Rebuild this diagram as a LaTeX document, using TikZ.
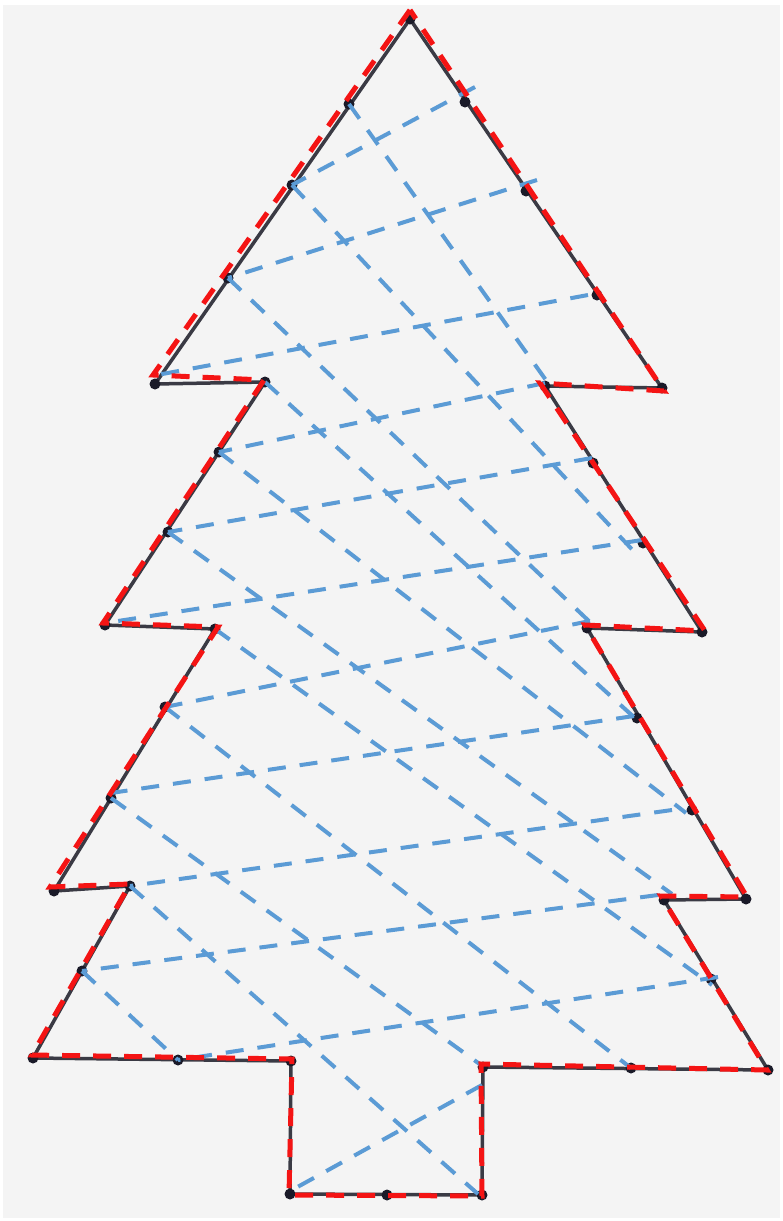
\documentclass[tikz,border=0pt]{standalone}
\definecolor{bgc}{HTML}{F4F4F4}
\definecolor{outc}{HTML}{3A3A44}
\definecolor{dotc}{HTML}{1A1A28}
\definecolor{redc}{HTML}{F41414}
\definecolor{bluec}{HTML}{5B9BD5}
\tikzset{
  outline/.style={draw=outc, line width=3.5pt, line join=round},
  reddash/.style={draw=redc, line width=5pt, dash pattern=on 18pt off 13pt, line join=miter},
  bluedash/.style={draw=bluec, line width=4pt, dash pattern=on 18pt off 14pt},
  vdot/.style={circle, fill=dotc, inner sep=0pt, minimum size=11pt}
}
\begin{document}
\begin{tikzpicture}[x=1pt,y=-1pt]
\useasboundingbox (0,0) rectangle (783,1221);
\fill[white] (0,0) rectangle (783,1221);
\fill[bgc] (3,5) rectangle (780,1218);
% outline vertices
\coordinate (T) at (410,19);
\coordinate (LN1o) at (155,384);
\coordinate (LN1i) at (265,382);
\coordinate (LN2o) at (105,625);
\coordinate (LN2i) at (215,629);
\coordinate (LN3o) at (54,891);
\coordinate (LN3i) at (130,886);
\coordinate (BL) at (33,1058);
\coordinate (TrLT) at (291,1061);
\coordinate (TrLB) at (290,1194);
\coordinate (TrRB) at (482,1195);
\coordinate (TrRT) at (483,1067);
\coordinate (BR) at (768,1070);
\coordinate (RN3i) at (664,900);
\coordinate (RN3o) at (746,899);
\coordinate (RN2i) at (587,628);
\coordinate (RN2o) at (702,632);
\coordinate (RN1i) at (545,386);
\coordinate (RN1o) at (662,388);
% red outline vertices (drawn slightly off the black one)
\coordinate (rT) at (410,10);
\coordinate (rLN1o) at (153,375);
\coordinate (rLN1i) at (264,380);
\coordinate (rLN2o) at (103,623);
\coordinate (rLN2i) at (218,627);
\coordinate (rLN3o) at (50,887);
\coordinate (rLN3i) at (130,884);
\coordinate (rBL) at (32,1055);
\coordinate (rTrLT) at (292,1059);
\coordinate (rTrLB) at (289,1195);
\coordinate (rTrRB) at (482,1196);
\coordinate (rTrRT) at (481,1064);
\coordinate (rBR) at (767,1070);
\coordinate (rRN3i) at (661,896);
\coordinate (rRN3o) at (747,897);
\coordinate (rRN2i) at (585,625);
\coordinate (rRN2o) at (705,631);
\coordinate (rRN1i) at (540,383);
\coordinate (rRN1o) at (664,391);
% intermediate points
\coordinate (a1) at (349,104);
\coordinate (a2) at (292,185);
\coordinate (a3) at (228,278);
\coordinate (a4) at (219,452);
\coordinate (a5) at (168,532);
\coordinate (a6) at (165,707);
\coordinate (a7) at (111,798);
\coordinate (a8) at (82,971);
\coordinate (b1) at (178,1060);
\coordinate (b2) at (387,1195);
\coordinate (b3) at (631,1068);
\coordinate (c1) at (465,102);
\coordinate (c2) at (526,191);
\coordinate (c3) at (597,295);
\coordinate (c4) at (593,463);
\coordinate (c5) at (643,543);
\coordinate (c6) at (637,718);
\coordinate (c7) at (692,810);
\coordinate (c8) at (711,979);
% black outline
\draw[outline] (T) -- (LN1o) -- (LN1i) -- (LN2o) -- (LN2i) -- (LN3o) -- (LN3i) -- (BL)
  -- (TrLT) -- (TrLB) -- (TrRB) -- (TrRT) -- (BR) -- (RN3i) -- (RN3o) -- (RN2i)
  -- (RN2o) -- (RN1i) -- (RN1o) -- cycle;
% dots
\foreach \p in {T,LN1o,LN1i,LN2o,LN2i,LN3o,LN3i,BL,TrLT,TrLB,TrRB,TrRT,BR,RN3i,RN3o,RN2i,RN2o,RN1i,RN1o,a1,a2,a3,a4,a5,a6,a7,a8,b1,b2,b3,c1,c2,c3,c4,c5,c6,c7,c8}
  \node[vdot] (dot\p) at (\p) {};
% free ends of blue lines
\coordinate (u1) at (475,87);
\coordinate (u2) at (537,180);
\coordinate (u3) at (588,295);
\coordinate (v3) at (157,375);
\coordinate (u4) at (545,383);
\coordinate (u5) at (592,458);
\coordinate (u6) at (642,540);
\coordinate (v6) at (105,623);
\coordinate (u7) at (590,621);
\coordinate (u8) at (634,716);
\coordinate (v8) at (104,794);
\coordinate (u9) at (672,810);
\coordinate (u10) at (658,895);
\coordinate (u11) at (718,977);
\coordinate (u12) at (482,1085);
\coordinate (v12) at (292,1190);
\coordinate (eA) at (548,383);
\coordinate (eB) at (640,558);
\coordinate (eC) at (592,624);
\coordinate (eD) at (636,719);
\coordinate (eE) at (686,813);
\coordinate (eF) at (672,894);
\coordinate (eG) at (712,985);
\coordinate (eI) at (481,1065);
\coordinate (eJ) at (478,1194);
% blue lines rising to the right
\draw[bluedash] (u1) -- (a2);
\draw[bluedash] (u2) -- (a3);
\draw[bluedash] (u3) -- (v3);
\draw[bluedash] (u4) -- (a4);
\draw[bluedash] (u5) -- (a5);
\draw[bluedash] (u6) -- (v6);
\draw[bluedash] (u7) -- (a6);
\draw[bluedash] (u8) -- (v8);
\draw[bluedash] (u9) -- (LN3i);
\draw[bluedash] (u10) -- (a8);
\draw[bluedash] (u11) -- (b1);
\draw[bluedash] (u12) -- (v12);
% blue lines falling to the right
\draw[bluedash] (a1) -- (eA);
\draw[bluedash] (a2) -- (eB);
\draw[bluedash] (a3) -- (eC);
\draw[bluedash] (LN1i) -- (eD);
\draw[bluedash] (a4) -- (eE);
\draw[bluedash] (a5) -- (eF);
\draw[bluedash] (LN2i) -- (eG);
\draw[bluedash] (a6) -- (b3);
\draw[bluedash] (a7) -- (eI);
\draw[bluedash] (LN3i) -- (eJ);
\draw[bluedash] (a8) -- (b1);
% red dashed outline
\draw[reddash] (rT) -- (rLN1o) -- (rLN1i) -- (rLN2o) -- (rLN2i) -- (rLN3o) -- (rLN3i) -- (rBL)
  -- (rTrLT) -- (rTrLB) -- (rTrRB) -- (rTrRT) -- (rBR) -- (rRN3i) -- (rRN3o) -- (rRN2i)
  -- (rRN2o) -- (rRN1i) -- (rRN1o) -- cycle;
\end{tikzpicture}
\end{document}
